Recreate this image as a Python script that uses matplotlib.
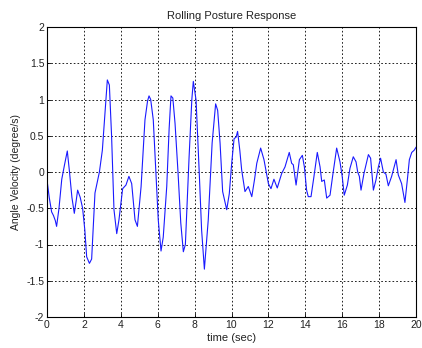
import matplotlib
matplotlib.use("Agg")
import matplotlib.pyplot as plt

plt.rcParams['font.family'] = ['Liberation Sans', 'DejaVu Sans']

# time (sec) and angle velocity (degree/s)
time = [0.0, 0.12, 0.25, 0.35, 0.45, 0.52, 0.65, 0.8, 0.95, 1.1, 1.22, 1.35, 1.48,
        1.58, 1.66, 1.8, 1.93, 2.05, 2.15, 2.3, 2.42, 2.6, 2.84, 3.0, 3.15, 3.27,
        3.38, 3.5, 3.63, 3.78, 3.9, 4.1, 4.28, 4.44, 4.59, 4.77, 4.9, 5.1, 5.31,
        5.45, 5.53, 5.62, 5.76, 5.9, 6.03, 6.18, 6.3, 6.49, 6.62, 6.72, 6.82, 6.94,
        7.1, 7.25, 7.39, 7.5, 7.7, 7.85, 7.93, 8.08, 8.25, 8.38, 8.53, 8.74, 8.95,
        9.14, 9.25, 9.38, 9.52, 9.74, 9.88, 10.01, 10.14, 10.25, 10.33, 10.45,
        10.55, 10.73, 10.91, 11.1, 11.25, 11.37, 11.58, 11.76, 12.0, 12.14, 12.3,
        12.48, 12.72, 12.9, 13.13, 13.26, 13.35, 13.5, 13.68, 13.84, 13.95, 14.07,
        14.16, 14.31, 14.47, 14.65, 14.8, 14.89, 15.03, 15.16, 15.34, 15.49, 15.7,
        15.88, 16.0, 16.11, 16.28, 16.42, 16.6, 16.75, 16.84, 16.93, 17.02, 17.18,
        17.42, 17.54, 17.69, 17.83, 17.96, 18.08, 18.23, 18.37, 18.5, 18.68, 18.92,
        19.04, 19.22, 19.4, 19.53, 19.64, 19.77, 19.9, 20.0]
velocity = [-0.11, -0.35, -0.55, -0.6, -0.67, -0.75, -0.5, -0.1, 0.1, 0.29, 0.0, -0.35, -0.57,
            -0.4, -0.25, -0.35, -0.5, -0.8, -1.17, -1.26, -1.2, -0.29, 0.0, 0.3, 0.85, 1.27,
            1.2, 0.5, -0.52, -0.85, -0.66, -0.23, -0.18, -0.06, -0.16, -0.66, -0.75, -0.2, 0.72,
            0.98, 1.05, 1.0, 0.72, 0.0, -0.66, -1.09, -0.9, -0.2, 0.6, 1.05, 1.02, 0.67,
            0.0, -0.7, -1.1, -1.0, 0.2, 1.0, 1.25, 0.99, 0.0, -0.8, -1.34, -0.66, 0.4,
            0.94, 0.85, 0.4, -0.27, -0.52, -0.3, 0.12, 0.46, 0.48, 0.56, 0.3,
            0.03, -0.27, -0.2, -0.34, -0.1, 0.12, 0.33, 0.17, -0.16, -0.23, -0.1,
            -0.22, -0.02, 0.07, 0.27, 0.12, 0.1, -0.18, 0.17, 0.23, 0.07, -0.25,
            -0.34, -0.34, -0.06, 0.27, 0.07, -0.13, -0.11, -0.36, -0.32, -0.04, 0.33,
            0.14, -0.06, -0.32, -0.18, 0.05, 0.21, 0.14, 0.0, -0.06, -0.25, -0.02,
            0.24, 0.19, -0.25, -0.11, 0.07, 0.19, 0.0, -0.03, -0.19, -0.06, 0.17,
            -0.04, -0.16, -0.42, -0.11, 0.17, 0.27, 0.3, 0.34]

xticks = list(range(0, 21, 2))
yticks = [-2, -1.5, -1, -0.5, 0, 0.5, 1, 1.5, 2]
ytick_labels = ['-2', '-1.5', '-1', '-0.5', '0', '0.5', '1', '1.5', '2']

fig = plt.figure(figsize=(4.22, 3.48), dpi=100)
ax = fig.add_axes([47 / 422, 31 / 348, 369 / 422, 290 / 348])

ax.plot(time, velocity, color='#1a1aff', linewidth=0.8)

ax.set_xlim(0, 20)
ax.set_ylim(-2, 2)
ax.set_xticks(xticks)
ax.set_yticks(yticks)
ax.set_yticklabels(ytick_labels)
ax.tick_params(direction='in', labelsize=7.5, length=3, width=0.6, pad=2,
               labelcolor='#222222')
ax.grid(True, color='black', linestyle=(0, (2, 2.5)), linewidth=0.6)
for s in ax.spines.values():
    s.set_linewidth(0.8)

ax.set_title("Rolling Posture Response", fontsize=8, pad=6, color='#222222')
ax.set_xlabel("time (sec)", fontsize=8, labelpad=2, color='#222222')
ax.set_ylabel("Angle Velocity (degree/s)", fontsize=7.5, labelpad=4, color='#222222')

fig.savefig("out.png", dpi=100)
